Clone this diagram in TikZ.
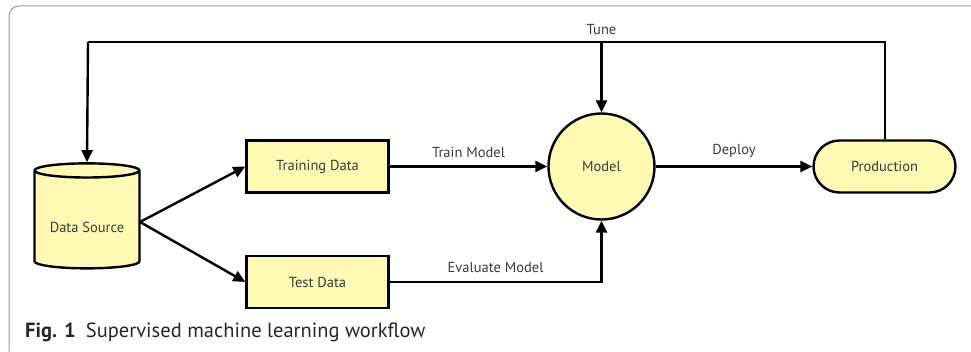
\documentclass[tikz,border=0pt]{standalone}
\usepackage{fontspec}
\setmainfont{PT Sans}
\usetikzlibrary{shapes.geometric,shapes.misc,arrows.meta}
\definecolor{boxfill}{HTML}{FFF9B4}
\definecolor{txt}{HTML}{3A3A3A}
\begin{document}
\begin{tikzpicture}[x=1pt,y=-1pt,
  base/.style={draw=black,line width=2.4pt,fill=boxfill,text=txt,font=\fontsize{14.5}{16}\selectfont,inner sep=0pt},
  databox/.style={base,rectangle,minimum width=142pt,minimum height=52pt},
  modelc/.style={base,circle,minimum size=106pt},
  prod/.style={base,rounded rectangle,minimum width=142pt,minimum height=52pt},
  cyl/.style={base,cylinder,shape border rotate=90,aspect=0.19,minimum width=105pt,minimum height=105pt},
  conn/.style={line width=2.4pt,-{Triangle[length=12pt,width=11pt]}},
  plain/.style={line width=2.4pt},
  lab/.style={text=txt,font=\fontsize{14.5}{16}\selectfont,inner sep=0pt}
]
\useasboundingbox (0,0) rectangle (971,352);
\draw[draw=gray!80,line width=1pt,rounded corners=10pt] (9,351.5) -- (9,6) -- (990,6);
\node[cyl] (src) at (87,220) {\raisebox{-7pt}[\height][\depth]{Data Source}};
\node[databox] (train) at (317.5,166.5) {Training Data};
\node[databox] (test) at (317.5,282) {Test Data};
\node[modelc] (model) at (601.5,166.5) {Model};
\node[prod] (prodn) at (884.5,166.5) {Production};
\coordinate (srcr) at (140,222);
\coordinate (tl) at (885,42);
\coordinate (tm) at (601.5,42);
\coordinate (ts) at (88,42);
\draw[conn] (srcr) -- (train.west);
\draw[conn] (srcr) -- (test.west);
\draw[conn] (train.east) -- node[lab,above=8pt]{Train Model} (model.west);
\draw[conn] (model.east) -- node[lab,above=8pt]{Deploy} (prodn.west);
\draw[conn] (test.east) -- node[lab,pos=0.5,above=8pt]{Evaluate Model} (test.east -| model.south) -- (model.south);
\draw[plain] (prodn.north -| tl) -- (tl) -- (ts);
\draw[conn] (ts) -- (src.top);
\draw[conn] (tm) -- (model.north);
\node[lab,above=7pt] (tunelab) at (tm) {Tune};
\node[anchor=base west,inner sep=0pt,font=\fontsize{20.5}{24}\selectfont,text=black!85] (cap) at (25,337.5) {\textbf{Fig. 1}\enspace Supervised machine learning workflow};
\end{tikzpicture}
\end{document}
